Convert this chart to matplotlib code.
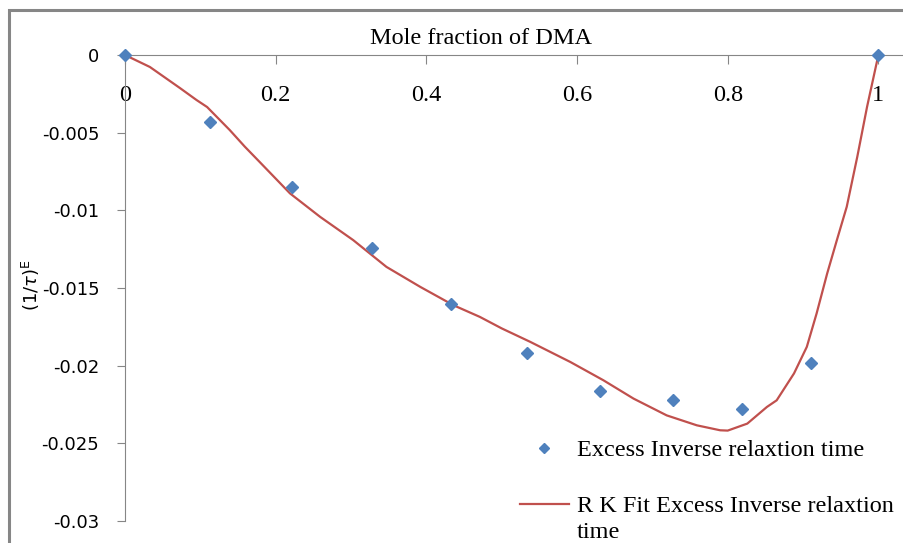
import matplotlib
matplotlib.use("Agg")
import matplotlib.pyplot as plt
from matplotlib.patches import Rectangle

# Experimental data
x_exp = [0.0, 0.113, 0.222, 0.328, 0.433, 0.534, 0.631, 0.728, 0.819, 0.911, 1.0]
y_exp = [0.0, -0.0043, -0.0085, -0.0124, -0.0160, -0.0192, -0.0216, -0.0222, -0.0228, -0.0198, 0.0]

# RK fit curve
x_fit = [0.0, 0.033, 0.073, 0.095, 0.109, 0.139, 0.159, 0.179, 0.219, 0.259, 0.303,
         0.347, 0.392, 0.436, 0.471, 0.500, 0.538, 0.591, 0.635, 0.675, 0.719, 0.759,
         0.790, 0.800, 0.826, 0.852, 0.865, 0.888, 0.905, 0.918, 0.932, 0.945, 0.958,
         0.972, 0.985, 1.0]
y_fit = [0.0, -0.00077, -0.00213, -0.0029, -0.00335, -0.00483, -0.00590, -0.00690, -0.00891,
         -0.01042, -0.01192, -0.01364, -0.01493, -0.01611, -0.01686, -0.01760, -0.01847,
         -0.01976, -0.02094, -0.02212, -0.02320, -0.02384, -0.02416, -0.02418, -0.02373,
         -0.02266, -0.02223, -0.02050, -0.01879, -0.01664, -0.01407, -0.01190, -0.00977,
         -0.00655, -0.00333, 0.0]

x_ticks = [0, 0.2, 0.4, 0.6, 0.8, 1.0]
x_ticklabels = ["0", "0.2", "0.4", "0.6", "0.8", "1"]
y_ticks = [0, -0.005, -0.01, -0.015, -0.02, -0.025, -0.03]
y_ticklabels = ["0", "-0.005", "-0.01", "-0.015", "-0.02", "-0.025", "-0.03"]

label_exp = "Excess Inverse relaxtion time"
label_fit_1 = "R K Fit Excess Inverse relaxtion"
label_fit_2 = "time"

W, H = 904, 543
fig = plt.figure(figsize=(W / 100, H / 100), dpi=100)
fig.patch.set_facecolor("white")

ax = fig.add_axes([125 / W, (H - 521) / H, (W - 125) / W, (521 - 55) / H])
ax.set_xlim(0, 1.034)
ax.set_ylim(-0.03, 0)

grey = "#868686"
serif = ["Liberation Serif", "DejaVu Serif"]
sans = ["DejaVu Sans"]
serif_size = 17.5

ax.plot(x_fit, y_fit, color="#C0504D", lw=1.6, zorder=2,
        label=label_fit_1, clip_on=False)
ax.plot(x_exp, y_exp, linestyle="none", marker="D", ms=6.5, color="#4F81BD",
        zorder=3, label=label_exp, clip_on=False)

for s in ["top", "right"]:
    ax.spines[s].set_visible(False)
ax.spines["bottom"].set_position(("data", 0))
ax.spines["bottom"].set_color(grey)
ax.spines["left"].set_color(grey)
ax.spines["bottom"].set_zorder(1)

ax.set_xticks(x_ticks)
ax.set_xticklabels(x_ticklabels, fontfamily=serif, fontsize=serif_size)
ax.set_yticks(y_ticks)
ax.set_yticklabels(y_ticklabels, fontfamily=sans, fontsize=13)
ax.tick_params(axis="x", direction="out", length=6.5, color=grey, pad=15)
ax.tick_params(axis="y", direction="out", length=5.5, color=grey, pad=13)

fig.text(481 / W, 1 - 39 / H, "Mole fraction of DMA", ha="center", va="center",
         fontfamily=serif, fontsize=serif_size)
fig.text(31 / W, 1 - 285 / H, r"(1/$\tau$)$^{\mathrm{E}}$", rotation=90,
         ha="center", va="center", fontfamily=sans, fontsize=13)

h, l = ax.get_legend_handles_labels()
leg = ax.legend(h[::-1], l[::-1], loc="upper left", bbox_to_anchor=(520 / W, 1 - 439 / H),
                bbox_transform=fig.transFigure, frameon=False,
                prop={"family": serif, "size": serif_size}, handlelength=2.0,
                handletextpad=0.33, labelspacing=1.4, borderpad=0, borderaxespad=0)
leg.legend_handles[0].set_markersize(5.5)

fig.canvas.draw()
bb = leg.get_texts()[1].get_window_extent()
fig.text(bb.x0 / W, ((bb.y0 + bb.y1) / 2 - 26) / H, label_fit_2, ha="left", va="center",
         fontfamily=serif, fontsize=serif_size)

fig.patches.append(Rectangle((9 / W, -0.2), 1.2, 1.2 - 10 / H, transform=fig.transFigure,
                             fill=False, edgecolor=grey, lw=2.2))

fig.savefig("out.png", dpi=100)
